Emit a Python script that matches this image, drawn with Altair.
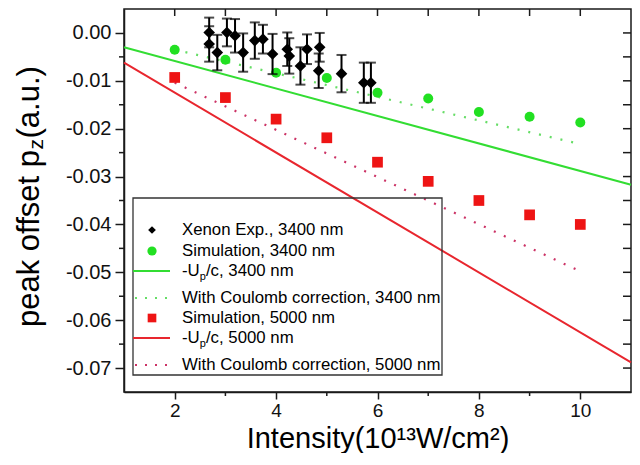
import altair as alt
import pandas as pd

# ---------------- data ----------------
xe_x = [2.68, 2.68, 2.84, 3.03, 3.19, 3.35, 3.58, 3.74, 3.93, 4.22, 4.26, 4.48, 4.61, 4.86, 4.84, 5.29, 5.73, 5.87]
xe_y = [0.0001, -0.0023, -0.0041, 0.0001, -0.0006, -0.0041, -0.0016, -0.0013, -0.0044, -0.0034,
        -0.0048, -0.0069, -0.0034, -0.0030, -0.0079, -0.0085, -0.0104, -0.0104]
xe_err = [0.0031, 0.0037, 0.0037, 0.0029, 0.0035, 0.0040, 0.0038, 0.0030, 0.0042, 0.0035,
          0.0037, 0.0039, 0.0031, 0.0030, 0.0036, 0.0039, 0.0042, 0.0042]

sim_x = [2, 3, 4, 5, 6, 7, 8, 9, 10]
sim3400_y = [-0.0035, -0.0056, -0.0083, -0.0094, -0.0125, -0.0137, -0.0165, -0.0175, -0.0187]
sim5000_y = [-0.0093, -0.0135, -0.0180, -0.0219, -0.0270, -0.0310, -0.0350, -0.0380, -0.0400]

up_x = [1, 11]
up3400_y = [-0.0030, -0.0317]
up5000_y = [-0.0062, -0.0688]

coul_x = [2, 10]
coul3400_y = [-0.0035, -0.0232]
coul5000_y = [-0.0104, -0.0498]

x_major = [2, 4, 6, 8, 10]
x_minor = [3, 5, 7, 9]
x_top = [2, 3, 4, 5, 6, 7, 8, 9, 10]
y_major = [-0.07, -0.06, -0.05, -0.04, -0.03, -0.02, -0.01, 0.0]
y_minor = [-0.065, -0.055, -0.045, -0.035, -0.025, -0.015, -0.005]
y_right = [-0.07, -0.065, -0.06, -0.055, -0.05, -0.045, -0.04, -0.035, -0.03, -0.025,
           -0.02, -0.015, -0.01, -0.005, 0.0]

legend_labels = ["Xenon Exp., 3400 nm", "Simulation, 3400 nm", "-U|p|/c, 3400 nm",
                 "With Coulomb correction, 3400 nm", "Simulation, 5000 nm",
                 "-U|p|/c, 5000 nm", "With Coulomb correction, 5000 nm"]

# ---------------- style ----------------
F = "Liberation Sans"
W, H = 507, 383
GREEN = "#22e022"
GREEN_LINE = "#33dd33"
GREEN_DOT = "#66dd66"
RED = "#ee1414"
RED_LINE = "#e8262e"
RED_DOT = "#cc3366"
INK = "#1a1a1a"

xs = alt.Scale(domain=[1, 11], nice=False, zero=False)
ys = alt.Scale(domain=[-0.075, 0.005], nice=False, zero=False)
xaxis = alt.Axis(values=x_major, title="Intensity(10¹³W/cm²)", tickSize=7, labelPadding=2,
                 grid=False, labelFontSize=19, titleFontSize=29, titleY=55,
                 titleBaseline="alphabetic", titleFontWeight="normal")
yaxis = alt.Axis(values=y_major, title=None, tickSize=9, labelPadding=4, grid=False,
                 labelFontSize=20,
                 labelExpr="(datum.value < -0.0001 ? '-' : '') + format(abs(datum.value), '.2f')")


def X(f="x"):
    return alt.X(f"{f}:Q", scale=xs, axis=xaxis)


def Y(f="y"):
    return alt.Y(f"{f}:Q", scale=ys, axis=yaxis)


one = pd.DataFrame({"k": [0]})
layers = []

# data lines
layers.append(alt.Chart(pd.DataFrame({"x": up_x, "y": up3400_y})).mark_line(
    color=GREEN_LINE, strokeWidth=2).encode(x=X(), y=Y()))
layers.append(alt.Chart(pd.DataFrame({"x": up_x, "y": up5000_y})).mark_line(
    color=RED_LINE, strokeWidth=2).encode(x=X(), y=Y()))
layers.append(alt.Chart(pd.DataFrame({"x": coul_x, "y": coul3400_y})).mark_line(
    color=GREEN_DOT, strokeWidth=2.2, strokeDash=[2, 9]).encode(x=X(), y=Y()))
layers.append(alt.Chart(pd.DataFrame({"x": coul_x, "y": coul5000_y})).mark_line(
    color=RED_DOT, strokeWidth=2.2, strokeDash=[2, 9]).encode(x=X(), y=Y()))

# simulation points
layers.append(alt.Chart(pd.DataFrame({"x": sim_x, "y": sim3400_y})).mark_circle(
    color=GREEN, size=100, opacity=1).encode(x=X(), y=Y()))
layers.append(alt.Chart(pd.DataFrame({"x": sim_x, "y": sim5000_y})).mark_square(
    color=RED, size=115, opacity=1).encode(x=X(), y=Y()))

# experiment with error bars
xe = pd.DataFrame({"x": xe_x, "y": xe_y,
                   "lo": [a - b for a, b in zip(xe_y, xe_err)],
                   "hi": [a + b for a, b in zip(xe_y, xe_err)]})
layers.append(alt.Chart(xe).mark_rule(color="black", strokeWidth=2).encode(
    x=X(), y=Y("lo"), y2="hi:Q"))
layers.append(alt.Chart(xe).mark_tick(color="black", orient="horizontal", size=10,
                                      thickness=2).encode(x=X(), y=Y("lo")))
layers.append(alt.Chart(xe).mark_tick(color="black", orient="horizontal", size=10,
                                      thickness=2).encode(x=X(), y=Y("hi")))
layers.append(alt.Chart(xe).mark_point(shape="diamond", filled=True, color="black",
                                       size=135, opacity=1).encode(x=X(), y=Y()))

# minor / mirror ticks
layers.append(alt.Chart(pd.DataFrame({"y": y_minor})).mark_rule(color=INK, strokeWidth=1.5).encode(
    y=Y(), x=alt.value(-5), x2=alt.value(0)))
layers.append(alt.Chart(pd.DataFrame({"x": x_minor})).mark_rule(color=INK, strokeWidth=1.5).encode(
    x=X(), y=alt.value(H), y2=alt.value(H + 4)))
layers.append(alt.Chart(pd.DataFrame({"x": x_top})).mark_rule(color=INK, strokeWidth=1.5).encode(
    x=X(), y=alt.value(0), y2=alt.value(7)))
layers.append(alt.Chart(pd.DataFrame({"y": y_right})).mark_rule(color=INK, strokeWidth=1.5).encode(
    y=Y(), x=alt.value(W), x2=alt.value(W - 8)))

# y-axis title with subscript (rotated text pieces)
ty0 = 318
TX = -85.5
layers.append(alt.Chart(one).mark_text(text="peak offset p", angle=270, align="left",
                                       baseline="alphabetic", fontSize=31, font=F, color="black").encode(
    x=alt.value(TX), y=alt.value(ty0)))
layers.append(alt.Chart(one).mark_text(text="z", angle=270, align="left", baseline="alphabetic",
                                       fontSize=21, font=F, color="black", dy=4).encode(
    x=alt.value(TX), y=alt.value(ty0 - 177.5)))
layers.append(alt.Chart(one).mark_text(text="(a.u.)", angle=270, align="left", baseline="alphabetic",
                                       fontSize=31, font=F, color="black").encode(
    x=alt.value(TX), y=alt.value(ty0 - 177.5 - 11)))

# legend (hand built)
LX0, LX1, LY0, LY1 = 9, 318, 189, 366
rows = [221, 242, 262, 289, 309, 329, 356]
SYM_X, LINE_X0, LINE_X1, TXT_X = 28, 9, 46, 58
layers.append(alt.Chart(one).mark_rect(filled=False, stroke="#333333", strokeWidth=1.3).encode(
    x=alt.value(LX0), x2=alt.value(LX1), y=alt.value(LY0), y2=alt.value(LY1)))
layers.append(alt.Chart(one).mark_point(shape="diamond", filled=True, color="black", size=60,
                                        opacity=1).encode(x=alt.value(SYM_X), y=alt.value(rows[0])))
layers.append(alt.Chart(one).mark_circle(color=GREEN, size=85, opacity=1).encode(
    x=alt.value(SYM_X), y=alt.value(rows[1])))
layers.append(alt.Chart(one).mark_rule(color=GREEN_LINE, strokeWidth=2).encode(
    x=alt.value(LINE_X0), x2=alt.value(LINE_X1), y=alt.value(rows[2])))
layers.append(alt.Chart(one).mark_rule(color=GREEN_DOT, strokeWidth=2.2, strokeDash=[2, 8]).encode(
    x=alt.value(LINE_X0 + 2), x2=alt.value(LINE_X1), y=alt.value(rows[3])))
layers.append(alt.Chart(one).mark_square(color=RED, size=75, opacity=1).encode(
    x=alt.value(SYM_X), y=alt.value(rows[4])))
layers.append(alt.Chart(one).mark_rule(color=RED_LINE, strokeWidth=2).encode(
    x=alt.value(LINE_X0), x2=alt.value(LINE_X1), y=alt.value(rows[5])))
layers.append(alt.Chart(one).mark_rule(color=RED_DOT, strokeWidth=2.2, strokeDash=[2, 8]).encode(
    x=alt.value(LINE_X0 + 2), x2=alt.value(LINE_X1), y=alt.value(rows[6])))

FS = 16.8
for lab, ry in zip(legend_labels, rows):
    if "|" in lab:
        a, sub, b = lab.split("|")
        wa = (0.333 + 0.722) * FS
        layers.append(alt.Chart(one).mark_text(text=a, align="left", baseline="middle", fontSize=FS,
                                               font=F, color="black").encode(
            x=alt.value(TXT_X), y=alt.value(ry)))
        layers.append(alt.Chart(one).mark_text(text=sub, align="left", baseline="middle", fontSize=11,
                                               font=F, color="black", dy=6).encode(
            x=alt.value(TXT_X + wa), y=alt.value(ry)))
        layers.append(alt.Chart(one).mark_text(text=b, align="left", baseline="middle", fontSize=FS,
                                               font=F, color="black").encode(
            x=alt.value(TXT_X + wa + 6.2), y=alt.value(ry)))
    else:
        layers.append(alt.Chart(one).mark_text(text=lab, align="left", baseline="middle", fontSize=FS,
                                               font=F, color="black").encode(
            x=alt.value(TXT_X), y=alt.value(ry)))

chart = alt.layer(*layers).properties(
    width=W, height=H,
    padding={"left": 116, "top": 1, "right": 1, "bottom": 61},
    autosize=alt.AutoSizeParams(type="none"),
).configure_view(
    stroke=INK, strokeWidth=1.5
).configure_axis(
    labelFont=F, titleFont=F, labelColor="#111111", titleColor="black",
    domainColor=INK, domainWidth=1.5, tickColor=INK, tickWidth=1.5,
)

chart.save("out.html", embed_options={"renderer": "svg", "actions": False})
